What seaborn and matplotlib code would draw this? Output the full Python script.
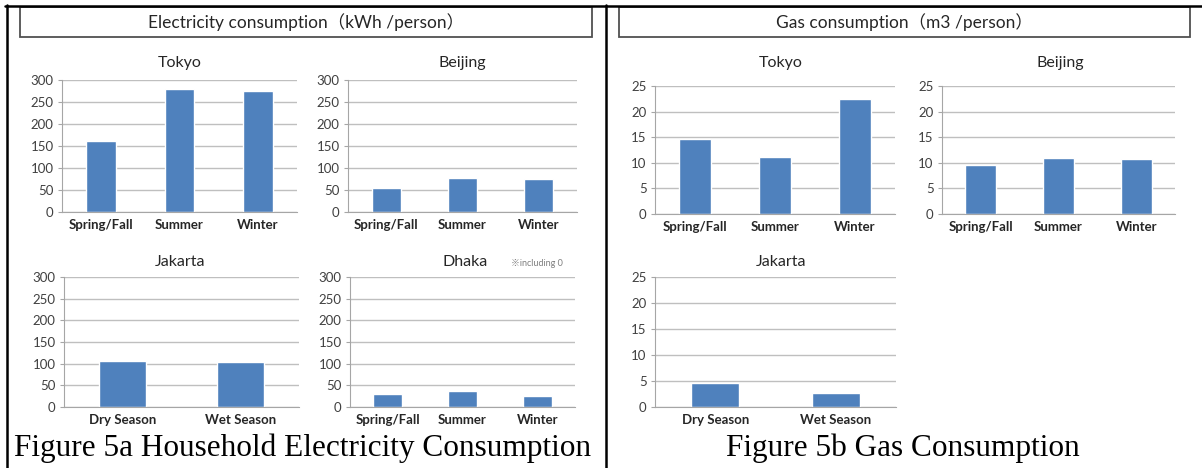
import matplotlib
matplotlib.use("Agg")
import matplotlib.pyplot as plt
from matplotlib.lines import Line2D
from matplotlib.patches import Rectangle
import seaborn as sns

# ---------------- data ----------------
seasons3 = ["Spring/Fall", "Summer", "Winter"]
seasons2 = ["Dry Season", "Wet Season"]

elec_tokyo = [161, 279, 274]
elec_beijing = [54, 77, 74]
elec_jakarta = [106, 104]
elec_dhaka = [31, 37, 26]

gas_tokyo = [14.6, 11.1, 22.5]
gas_beijing = [9.6, 10.9, 10.7]
gas_jakarta = [4.6, 2.7]

elec_ticks = [0, 50, 100, 150, 200, 250, 300]
gas_ticks = [0, 5, 10, 15, 20, 25]

header_elec = "Electricity consumption（kWh /person）"
header_gas = "Gas consumption（m3 /person）"
caption_elec = "Figure 5a Household Electricity Consumption"
caption_gas = "Figure 5b Gas Consumption"
note_dhaka = "※including 0"

# ---------------- style ----------------
sns.set_theme(style="white")
plt.rcParams["font.family"] = ["Lato", "Noto Sans CJK JP", "DejaVu Sans"]

W, H = 1202, 468
fig = plt.figure(figsize=(W / 100, H / 100), dpi=100)
fig.patch.set_facecolor("white")

BAR = "#4F81BD"
GRID = "#BFBFBF"
TXT = "#404040"


def fx(px):
    return px / W


def fy(py):
    return 1 - py / H


def make_ax(x0, x1, y0, y1):
    # pixel box: x0..x1 left-right, y0 (top) .. y1 (bottom)
    return fig.add_axes([fx(x0), fy(y1), fx(x1) - fx(x0), (y1 - y0) / H])


def draw(ax, cats, vals, ticks, width, title, title_xy):
    sns.barplot(x=cats, y=vals, ax=ax, color=BAR, saturation=1, width=width)
    ax.set_ylim(ticks[0], ticks[-1])
    ax.set_yticks(ticks)
    ax.set_yticklabels([str(t) for t in ticks], fontsize=9.5, color=TXT)
    ax.set_xticks(range(len(cats)))
    ax.set_xticklabels(cats, fontsize=9.5, fontweight="bold", color="#262626")
    ax.set_xlim(-0.5, len(cats) - 0.5)
    ax.yaxis.grid(True, color=GRID, lw=1)
    ax.set_axisbelow(True)
    for s in ("top", "right"):
        ax.spines[s].set_visible(False)
    ax.spines["left"].set_color("#A6A6A6")
    ax.spines["bottom"].set_color("#A6A6A6")
    ax.spines["left"].set_linewidth(0.8)
    ax.spines["bottom"].set_linewidth(0.8)
    ax.tick_params(axis="y", which="both", left=True, length=3, width=0.8,
                   color="#A6A6A6", pad=3)
    ax.tick_params(axis="x", which="both", bottom=False, length=0, pad=5)
    ax.set_xlabel("")
    ax.set_ylabel("")
    fig.text(fx(title_xy[0]), fy(title_xy[1]), title, ha="center", va="center",
             fontsize=11.5, color="#262626")


# ---------------- electricity ----------------
ax = make_ax(62, 297, 80, 212)
draw(ax, seasons3, elec_tokyo, elec_ticks, 0.38, "Tokyo", (180, 63))
ax = make_ax(348, 577, 80, 212)
draw(ax, seasons3, elec_beijing, elec_ticks, 0.38, "Beijing", (462, 63))
ax = make_ax(64, 299, 277, 407)
draw(ax, seasons2, elec_jakarta, elec_ticks, 0.4, "Jakarta", (180, 262))
ax = make_ax(350, 575, 277, 407)
draw(ax, seasons3, elec_dhaka, elec_ticks, 0.38, "Dhaka", (465, 262))
fig.text(fx(537), fy(264), note_dhaka, ha="center", va="center", fontsize=6.5,
         color="#7F7F7F")

# ---------------- gas ----------------
ax = make_ax(655, 895, 86, 214)
draw(ax, seasons3, gas_tokyo, gas_ticks, 0.4, "Tokyo", (781, 63))
ax = make_ax(942, 1175, 86, 214)
draw(ax, seasons3, gas_beijing, gas_ticks, 0.4, "Beijing", (1060, 63))
ax = make_ax(655, 896, 277, 407)
draw(ax, seasons2, gas_jakarta, gas_ticks, 0.4, "Jakarta", (781, 262))

# ---------------- frame, headers, captions ----------------
fig.add_artist(Line2D([fx(5), fx(1202)], [fy(5.5), fy(5.5)], color="black", lw=1.8))
fig.add_artist(Line2D([fx(6.5), fx(6.5)], [fy(5), fy(468)], color="black", lw=1.8))
fig.add_artist(Line2D([fx(605.5), fx(605.5)], [fy(5), fy(468)], color="black", lw=1.8))

for (x0, x1, txt) in [(20, 592, header_elec), (619, 1190, header_gas)]:
    fig.add_artist(Rectangle((fx(x0), fy(37)), fx(x1) - fx(x0), (37 - 7) / H,
                             facecolor="white", edgecolor="#505050", lw=1.3))
    fig.text(fx((x0 + x1) / 2), fy(22), txt, ha="center", va="center",
             fontsize=12.5, color="#262626")

fig.text(fx(303), fy(448), caption_elec, ha="center", va="center",
         fontsize=22.5, family="Liberation Serif", color="black")
fig.text(fx(903), fy(448), caption_gas, ha="center", va="center",
         fontsize=22.5, family="Liberation Serif", color="black")

fig.savefig("out.png", dpi=100, facecolor="white")
